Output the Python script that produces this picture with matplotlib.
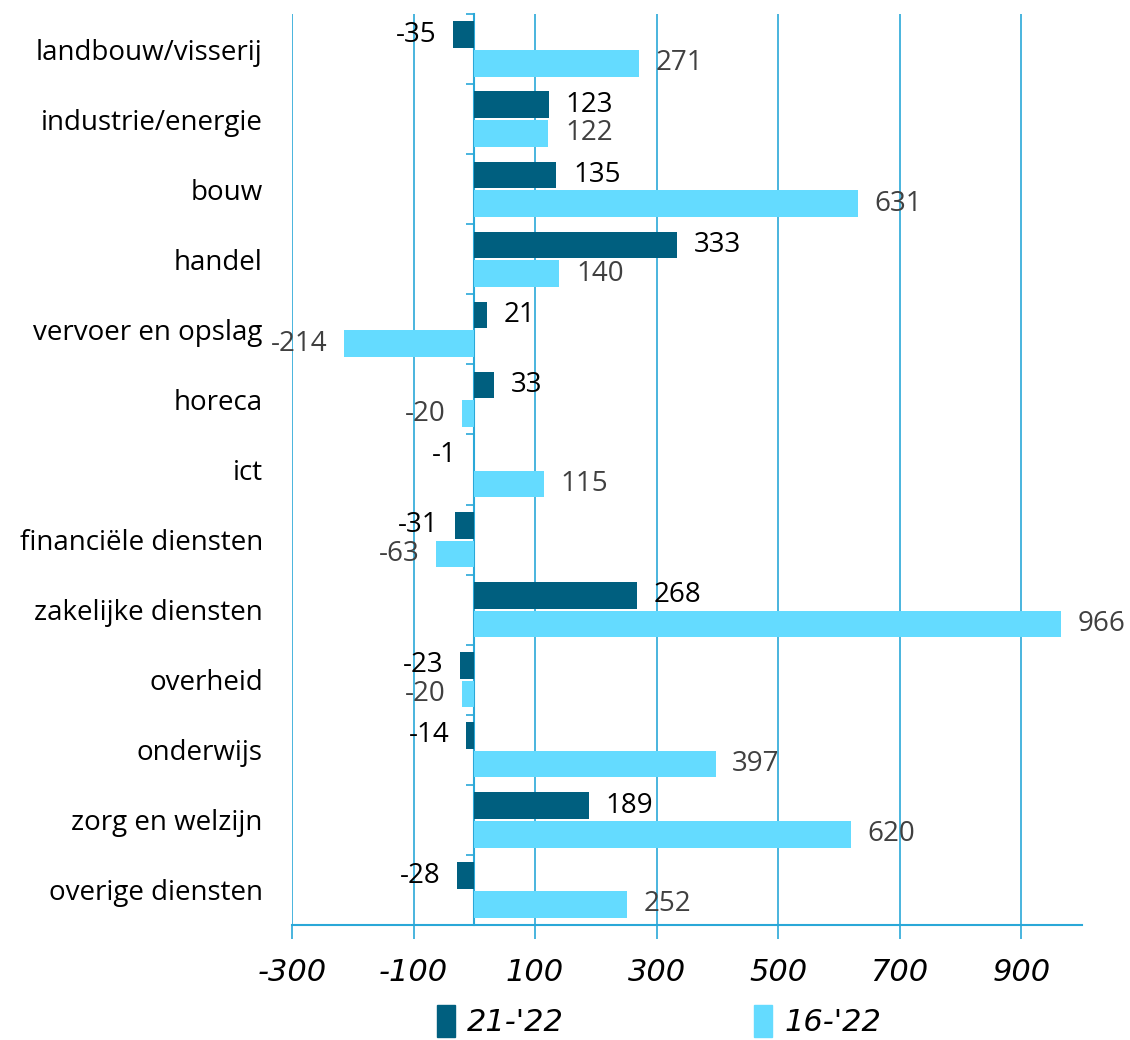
import numpy as np
import matplotlib
matplotlib.use("Agg")
import matplotlib.pyplot as plt
from matplotlib.patches import Patch

categories = ["landbouw/visserij", "industrie/energie", "bouw", "handel",
              "vervoer en opslag", "horeca", "ict", "financiële diensten",
              "zakelijke diensten", "overheid", "onderwijs", "zorg en welzijn",
              "overige diensten"]
change_21_22 = [-35, 123, 135, 333, 21, 33, -1, -31, 268, -23, -14, 189, -28]
change_16_22 = [271, 122, 631, 140, -214, -20, 115, -63, 966, -20, 397, 620, 252]
series_names = ["21-'22", "16-'22"]
x_ticks = [-300, -100, 100, 300, 500, 700, 900]

DARK = "#005f7f"
LIGHT = "#64dbff"
GRID = "#2aa8d8"

plt.rcParams["font.family"] = ["Open Sans", "DejaVu Sans"]

fig = plt.figure(figsize=(11.3, 10.4), dpi=100)
ax = fig.add_axes([292 / 1130, 115 / 1040, 790 / 1130, 911 / 1040])

y = np.arange(len(categories))
h = 0.38
off = 0.205
ax.barh(y - off, change_21_22, height=h, color=DARK, zorder=3)
ax.barh(y + off, change_16_22, height=h, color=LIGHT, zorder=3)

for vals, dy, col in [(change_21_22, -off, "black"), (change_16_22, off, "#404040")]:
    for yi, v in zip(y, vals):
        dx = 12 if v >= 0 else -12
        ax.annotate(str(v), (v, yi + dy), xytext=(dx, 0), textcoords="offset points",
                    ha="left" if v >= 0 else "right", va="center",
                    fontsize=20, color=col, zorder=4)

ax.set_xlim(-300, 1000)
ax.set_ylim(len(categories) - 0.5, -0.5)
ax.set_xticks(x_ticks)
ax.set_xticklabels([str(t) for t in x_ticks], fontsize=22, style="italic",
                   family="DejaVu Sans")
ax.tick_params(axis="x", length=10, width=1.2, color=GRID, pad=14)
ax.grid(axis="x", color=GRID, linewidth=1.2, zorder=0)

ax.set_yticks(y)
ax.set_yticklabels(categories, fontsize=20)
ax.tick_params(axis="y", length=0, pad=21)

for s in ["top", "right", "left"]:
    ax.spines[s].set_visible(False)
ax.spines["bottom"].set_color(GRID)
ax.spines["bottom"].set_linewidth(1.5)

# zero line with small category ticks
zax = ax.secondary_yaxis(300 / 1300)
zax.set_yticks([])
zax.set_yticks(np.arange(len(categories) + 1) - 0.5, minor=True)
zax.tick_params(which="minor", length=6, width=1.2, color=GRID)
zax.spines["left"].set_color(GRID)
zax.spines["left"].set_linewidth(1.5)

handles = [Patch(color=DARK), Patch(color=LIGHT)]
fig.legend(handles, series_names, loc="center", bbox_to_anchor=(0.583, 0.018),
           ncol=2, frameon=False, handlelength=0.6, handleheight=1.2,
           handletextpad=0.4, columnspacing=6.2,
           prop={"family": "DejaVu Sans", "style": "italic", "size": 22})

fig.savefig("out.png", dpi=100)
